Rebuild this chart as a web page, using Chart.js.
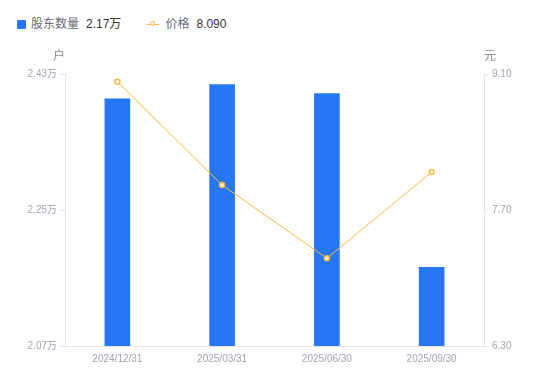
<!DOCTYPE html>
<html><head><meta charset="utf-8">
<script src="https://cdn.jsdelivr.net/npm/chart.js@4/dist/chart.umd.min.js"></script>
<style>
html,body{margin:0;padding:0;background:#fff;}
#wrap{position:relative;width:550px;height:381px;font-family:"Liberation Sans","Noto Sans CJK SC",sans-serif;}
#legend{position:absolute;left:17px;top:16px;font-size:12px;line-height:16px;display:flex;align-items:center;white-space:nowrap;}
.item{display:flex;align-items:center;margin-right:22px;}
.sq{width:9px;height:9px;background:#2577F6;border-radius:1px;margin-right:5px;}
.ln{position:relative;width:12px;height:9px;margin-right:6px;}
.ln:before{content:"";position:absolute;left:0;right:0;top:4px;height:1px;background:#FFB53B;}
.ln:after{content:"";position:absolute;left:3px;top:1.5px;width:3px;height:3px;border:1.5px solid #FFB53B;border-radius:50%;background:#fff;}
.lab{color:#6b6b78;margin-right:7px;}
.val{color:#333;}
canvas{position:absolute;left:0;top:0;}
</style></head>
<body><div id="wrap">
<div id="legend"></div>
<canvas id="c" width="550" height="381"></canvas>
</div>
<script>
const categories = ["2024/12/31","2025/03/31","2025/06/30","2025/09/30"];
const holders = [2.397, 2.416, 2.404, 2.174];   // 万户
const prices = [9.02, 7.957, 7.203, 8.09];       // 元
const leftTicks = [2.07, 2.25, 2.43];
const rightTicks = [6.30, 7.70, 9.10];
const seriesNames = ["股东数量","价格"];
const legendValues = ["2.17万","8.090"];
const leftUnit = "户";
const rightUnit = "元";

document.getElementById('legend').innerHTML =
  '<div class="item"><span class="sq"></span><span class="lab">'+seriesNames[0]+'</span><span class="val">'+legendValues[0]+'</span></div>'+
  '<div class="item" style="margin-left:4px"><span class="ln"></span><span class="lab">'+seriesNames[1]+'</span><span class="val">'+legendValues[1]+'</span></div>';

const tickColor = '#a2a2b2';
const axisColor = '#e3e3e8';
const fontFam = '"Liberation Sans","Noto Sans CJK SC",sans-serif';

const unitPlugin = {
  id:'units',
  afterDraw(chart){
    const ctx = chart.ctx;
    ctx.save();
    ctx.font = '12px ' + fontFam;
    ctx.fillStyle = '#8a8a98';
    ctx.textAlign = 'center';
    ctx.textBaseline = 'middle';
    ctx.fillText(leftUnit, chart.scales.y.right - 6, 57);
    ctx.fillText(rightUnit, chart.scales.y1.left + 6, 57);
    ctx.restore();
  }
};

new Chart(document.getElementById('c'), {
  data:{
    labels:categories,
    datasets:[
      {type:'line', label:seriesNames[1], data:prices, yAxisID:'y1', borderColor:'#FFB53B', borderWidth:1,
       pointRadius:2.5, pointBorderWidth:1.5, pointBackgroundColor:'#fff', pointBorderColor:'#FFB53B', tension:0, order:0},
      {type:'bar', label:seriesNames[0], data:holders, yAxisID:'y', backgroundColor:'#2577F6', barThickness:25, order:1}
    ]
  },
  options:{
    responsive:false, animation:false,
    layout:{padding:{top:74,left:0,right:0,bottom:0}},
    plugins:{legend:{display:false}, tooltip:{enabled:false}},
    scales:{
      x:{
        grid:{display:true, drawOnChartArea:false, drawTicks:false, color:axisColor},
        border:{display:true, color:axisColor},
        ticks:{color:tickColor, font:{size:10, family:fontFam}, padding:7, maxRotation:0},
        afterFit(s){ s.height = 35; }
      },
      y:{
        position:'left', min:leftTicks[0], max:leftTicks[leftTicks.length-1],
        grid:{display:true, drawOnChartArea:false, drawTicks:true, tickLength:5, color:axisColor},
        border:{display:true, color:axisColor},
        ticks:{color:tickColor, font:{size:10, family:fontFam}, padding:3, callback:v=>v.toFixed(2)+'万'},
        afterBuildTicks(s){ s.ticks = leftTicks.map(v=>({value:v})); },
        afterFit(s){ s.width = 65; }
      },
      y1:{
        position:'right', min:rightTicks[0], max:rightTicks[rightTicks.length-1],
        grid:{display:true, drawOnChartArea:false, drawTicks:true, tickLength:5, color:axisColor},
        border:{display:true, color:axisColor},
        ticks:{color:tickColor, font:{size:10, family:fontFam}, padding:3, callback:v=>v.toFixed(2)},
        afterBuildTicks(s){ s.ticks = rightTicks.map(v=>({value:v})); },
        afterFit(s){ s.width = 66; }
      }
    }
  },
  plugins:[unitPlugin]
});
</script>
</body></html>
